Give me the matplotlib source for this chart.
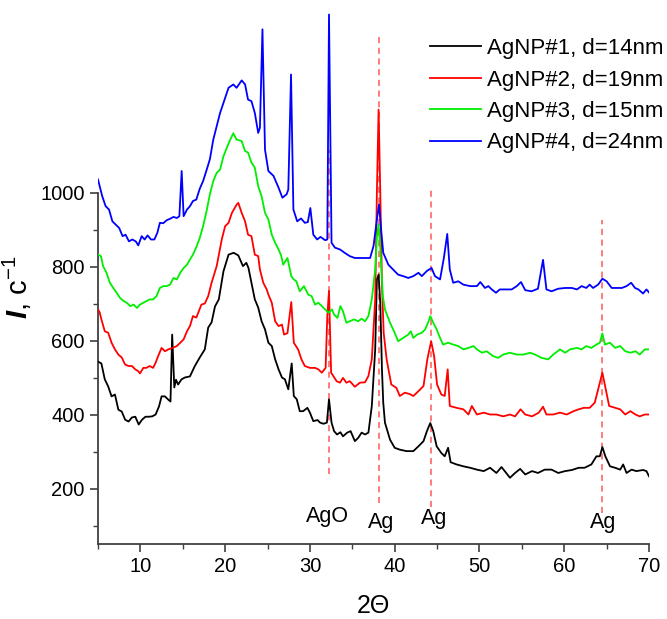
import matplotlib
matplotlib.use("Agg")
import matplotlib.pyplot as plt
from matplotlib.ticker import MultipleLocator, FixedLocator

plt.rcParams['font.family'] = ['Liberation Sans', 'DejaVu Sans']
plt.rcParams['mathtext.fontset'] = 'custom'
plt.rcParams['mathtext.rm'] = 'Liberation Sans'
plt.rcParams['mathtext.it'] = 'Liberation Sans:italic'
plt.rcParams['mathtext.bf'] = 'Liberation Sans:bold'
plt.rcParams['mathtext.bfit'] = 'Liberation Sans:italic:bold'

# ---------------- data ----------------
x1 = [5.0, 5.4, 5.8, 6.2, 6.6, 7.0, 7.4, 7.8, 8.2, 8.6, 9.0, 9.4, 9.8, 10.2, 10.6, 11.0, 11.4, 11.8, 12.2, 12.5,
      12.9, 13.3, 13.55, 13.75, 14.0, 14.2, 14.45, 14.85, 15.25, 15.85, 16.4, 17.0, 17.6, 18.0, 18.4, 18.8, 19.25,
      19.8, 20.4, 21.0, 21.55, 22.1, 22.5, 22.75, 23.1, 23.5, 23.9, 24.3, 24.7, 25.1, 25.5, 25.9, 26.3, 26.7, 27.05,
      27.45, 27.85, 28.1, 28.45, 28.8, 29.2, 29.7, 30.0, 30.4, 30.9, 31.2, 31.6, 32.0, 32.25, 32.55, 32.85, 33.2,
      33.6, 33.9, 34.4, 34.8, 35.3, 35.7, 36.1, 36.5, 36.9, 37.3, 37.7, 37.9, 38.1, 38.3, 38.5, 38.65, 38.85, 39.45,
      40.0, 40.6, 41.4, 42.2, 42.8, 43.4, 43.8, 44.2, 44.55, 44.95, 45.5, 45.9, 46.3, 46.6, 47.3, 48.1, 48.9, 49.7,
      50.5, 51.25, 52.0, 52.6, 53.6, 54.2, 54.8, 55.4, 56.2, 56.9, 57.7, 58.5, 59.3, 60.1, 60.9, 61.7, 62.4, 63.2,
      63.8, 64.2, 64.5, 64.85, 65.4, 66.0, 66.6, 66.95, 67.35, 67.95, 68.5, 69.3, 69.7, 70.0]
y1 = [543, 538, 495, 476, 449, 454, 413, 408, 386, 381, 392, 394, 373, 386, 394, 394, 395, 400, 422, 449,
      449, 440, 435, 616, 473, 494, 481, 495, 500, 503, 530, 554, 576, 635, 649, 692, 711,
      787, 832, 837, 830, 801, 810, 796, 757, 711, 689, 652, 630, 594, 585, 549, 522, 500, 495,
      468, 538, 450, 441, 409, 409, 418, 405, 382, 385, 378, 375, 378, 441, 378, 355, 346,
      352, 341, 351, 355, 328, 337, 351, 346, 351, 423, 576, 765, 778, 700, 520, 432, 378, 332,
      310, 305, 301, 301, 314, 328, 355, 377, 355, 314, 296, 287, 310, 271, 265, 260, 256, 251,
      247, 256, 242, 258, 229, 242, 253, 238, 247, 242, 251, 251, 242, 247, 250, 256, 256, 265,
      287, 287, 312, 287, 260, 256, 251, 265, 242, 251, 247, 250, 247, 233]

x2 = [5.0, 5.2, 5.4, 5.8, 6.2, 6.6, 7.0, 7.4, 7.8, 8.2, 8.6, 9.0, 9.4, 9.75, 9.95, 10.35, 10.7, 11.1, 11.5, 11.8,
      12.1, 12.5, 12.9, 13.3, 13.9, 14.3, 14.7, 15.1, 15.5, 15.85, 16.2, 16.6, 17.2, 17.6, 18.0, 18.4, 19.0, 19.6,
      20.0, 20.4, 20.8, 21.35, 21.55, 21.95, 22.35, 22.7, 23.1, 23.5, 23.9, 24.1, 24.3, 24.5, 24.9, 25.1, 25.5,
      25.9, 26.3, 26.7, 26.95, 27.35, 27.8, 28.1, 28.6, 29.0, 29.4, 30.0, 30.6, 31.0, 31.4, 31.85, 32.05, 32.25,
      32.5, 32.75, 33.15, 33.55, 33.9, 34.3, 34.7, 35.3, 35.9, 36.5, 36.9, 37.3, 37.7, 37.9, 38.1, 38.3, 38.5,
      38.7, 39.05, 39.6, 40.2, 40.6, 41.2, 41.8, 42.2, 42.8, 43.4, 43.85, 44.3, 44.65, 45.0, 45.5, 45.9, 46.25,
      46.5, 47.3, 48.1, 48.7, 49.1, 49.7, 50.5, 51.25, 52.0, 52.8, 53.6, 54.2, 54.85, 55.4, 56.2, 57.0, 57.5,
      57.9, 58.7, 59.5, 60.3, 61.1, 61.7, 62.3, 63.0, 63.6, 64.0, 64.5, 64.9, 65.3, 66.0, 66.6, 67.2, 67.8,
      68.4, 68.9, 69.5, 70.0]
y2 = [684, 676, 657, 625, 621, 594, 576, 562, 554, 535, 531, 531, 522, 517, 511, 526, 526, 531, 526, 540,
      558, 580, 571, 576, 581, 585, 594, 603, 625, 639, 666, 662, 697, 700, 720, 756, 801, 873,
      909, 918, 945, 967, 972, 945, 922, 886, 882, 832, 828, 792, 774, 756, 738, 724, 702,
      652, 639, 643, 616, 620, 704, 594, 576, 549, 531, 526, 526, 522, 513, 526, 666, 734,
      513, 504, 490, 486, 499, 486, 490, 475, 486, 487, 504, 549, 711, 1000, 1224, 1000, 750,
      621, 549, 481, 472, 450, 459, 455, 450, 463, 477, 549, 598, 558, 481, 454, 450, 522,
      423, 418, 414, 400, 423, 400, 405, 400, 400, 395, 400, 395, 414, 400, 395, 405, 421,
      400, 400, 405, 400, 409, 414, 418, 418, 432, 468, 513, 468, 423, 418, 414, 400, 409,
      400, 395, 400, 400]

x3 = [5.0, 5.35, 5.6, 6.0, 6.4, 6.8, 7.2, 7.6, 8.0, 8.4, 8.8, 9.2, 9.6, 9.95, 10.35, 10.75, 11.1, 11.5, 11.9,
      12.3, 12.7, 13.1, 13.5, 13.9, 14.3, 14.7, 15.1, 15.5, 15.85, 16.2, 16.65, 17.0, 17.4, 17.8, 18.2, 18.6,
      19.0, 19.4, 19.8, 20.2, 20.6, 20.96, 21.35, 21.95, 22.35, 22.7, 23.1, 23.5, 23.9, 24.3, 24.7, 25.1, 25.5,
      25.9, 26.3, 26.6, 26.85, 27.35, 27.8, 28.1, 28.4, 28.8, 29.3, 29.8, 30.2, 30.6, 31.0, 31.4, 31.8, 32.2,
      32.6, 32.85, 33.25, 33.6, 33.9, 34.3, 34.7, 35.2, 35.7, 36.1, 36.5, 36.9, 37.3, 37.7, 37.9, 38.1, 38.3,
      38.6, 38.85, 39.45, 40.0, 40.4, 41.0, 41.6, 41.9, 42.2, 42.65, 43.2, 43.6, 44.0, 44.2, 44.55, 44.95,
      45.35, 45.7, 46.3, 46.9, 47.5, 48.1, 48.7, 49.3, 49.7, 50.3, 50.85, 51.6, 52.2, 52.8, 53.6, 54.4, 55.2,
      56.0, 56.55, 57.35, 58.1, 58.7, 59.5, 60.1, 60.7, 61.5, 62.05, 62.6, 63.2, 63.8, 64.2, 64.5, 64.8,
      65.4, 66.0, 66.6, 67.2, 67.8, 68.4, 68.9, 69.5, 70.0]
y3 = [832, 828, 801, 783, 756, 742, 729, 715, 707, 702, 693, 697, 688, 697, 702, 707, 711, 711, 720,
      742, 747, 747, 751, 769, 765, 783, 796, 805, 819, 832, 855, 877, 909, 949, 995, 1031,
      1053, 1062, 1098, 1121, 1143, 1160, 1143, 1139, 1112, 1108, 1081, 1067, 1017, 990, 945, 927, 886,
      864, 846, 830, 805, 823, 774, 765, 760, 733, 747, 724, 720, 697, 702, 693, 684, 675,
      684, 670, 661, 693, 679, 648, 652, 657, 652, 659, 652, 666, 711, 792, 880, 914, 850,
      720, 684, 648, 621, 598, 607, 616, 625, 607, 616, 621, 630, 652, 666, 648, 630,
      607, 589, 594, 589, 585, 576, 580, 585, 576, 567, 571, 558, 553, 562, 567, 562, 562,
      567, 562, 553, 549, 562, 576, 567, 576, 580, 576, 585, 580, 589, 594, 619, 589,
      594, 580, 585, 571, 567, 571, 562, 576, 576]

x4 = [5.0, 5.5, 5.9, 6.3, 6.7, 7.1, 7.5, 7.9, 8.25, 8.65, 9.05, 9.45, 9.75, 10.15, 10.5, 10.85, 11.25, 11.65,
      12.0, 12.3, 12.7, 13.1, 13.5, 13.9, 14.3, 14.6, 14.87, 15.1, 15.5, 15.85, 16.2, 16.6, 17.0, 17.4, 17.8,
      18.2, 18.6, 19.0, 19.4, 19.8, 20.4, 20.96, 21.35, 21.95, 22.35, 22.7, 23.1, 23.5, 23.9, 24.1, 24.4, 24.7,
      25.1, 25.7, 26.3, 26.75, 27.25, 27.45, 27.77, 28.05, 28.5, 28.95, 29.4, 29.75, 30.05, 30.4, 30.85, 31.25,
      31.8, 32.05, 32.25, 32.55, 32.95, 33.55, 34.1, 34.7, 35.3, 35.9, 36.5, 37.1, 37.5, 37.9, 38.15, 38.4,
      38.65, 39.25, 39.8, 40.4, 41.0, 41.6, 42.2, 42.8, 43.2, 43.8, 44.35, 44.75, 45.35, 45.8, 46.2, 46.5,
      46.9, 47.5, 48.1, 48.9, 49.7, 50.1, 50.65, 51.05, 51.45, 51.95, 52.4, 53.2, 53.8, 54.4, 54.9, 55.4,
      56.15, 56.9, 57.5, 57.9, 58.5, 59.3, 60.1, 60.9, 61.5, 62.05, 62.6, 63.0, 63.4, 64.0, 64.5, 65.0, 65.6,
      66.2, 66.8, 67.35, 67.9, 68.35, 68.75, 69.3, 69.7, 70.0]
y4 = [1035, 990, 963, 954, 922, 913, 904, 882, 886, 868, 873, 868, 857, 882, 873, 884, 873, 873,
      891, 918, 917, 925, 929, 934, 931, 936, 1058, 936, 954, 963, 977, 981, 1010, 1031, 1060,
      1090, 1143, 1179, 1215, 1242, 1283, 1292, 1283, 1303, 1292, 1251, 1247, 1215, 1161, 1175, 1441, 1116,
      1058, 1045, 1013, 986, 995, 1008, 1319, 954, 922, 930, 918, 920, 958, 886, 873, 880,
      871, 873, 1481, 864, 851, 846, 837, 828, 823, 823, 823, 823, 855, 927, 968, 900,
      837, 805, 792, 778, 774, 769, 774, 783, 774, 788, 796, 774, 765, 823, 888, 792,
      756, 760, 751, 747, 747, 758, 742, 747, 738, 729, 738, 738, 738, 747, 758, 736,
      733, 740, 818, 738, 733, 740, 742, 742, 738, 747, 742, 751, 742, 751, 767, 760, 742,
      742, 742, 747, 756, 742, 738, 727, 738, 730]

series_labels = ['AgNP#1, d=14nm', 'AgNP#2, d=19nm', 'AgNP#3, d=15nm', 'AgNP#4, d=24nm']
series_colors = ['#000000', '#ff0000', '#00ee00', '#0000ff']

peak_pos = [32.3, 38.1, 44.3, 64.5]
peak_lo = [240, 160, 150, 135]
peak_hi = [1115, 1427, 1013, 927]
peak_names = ['AgO', 'Ag', 'Ag', 'Ag']
name_x = [32.1, 38.4, 44.6, 64.6]
name_y = [123, 109, 118, 109]

# ---------------- figure ----------------
fig = plt.figure(figsize=(6.67, 6.19), dpi=100)
ax = fig.add_axes([98 / 667, 75 / 619, 551 / 667, 536.5 / 619])

for xs, ys, lab, col in zip([x1, x2, x3, x4], [y1, y2, y3, y4], series_labels, series_colors):
    ax.plot(xs, ys, color=col, lw=1.3, label=lab, zorder=3)

for p, lo, hi in zip(peak_pos, peak_lo, peak_hi):
    ax.plot([p, p], [lo, hi], color='#ff3b3b', lw=1.1, ls=(0, (4, 3)), zorder=2, alpha=0.85)

for t, tx, ty in zip(peak_names, name_x, name_y):
    ax.text(tx, ty, t, ha='center', va='center', fontsize=15.5)

ax.set_xlim(5, 70)
ax.set_ylim(50, 1500)
ax.spines['top'].set_visible(False)
ax.spines['right'].set_visible(False)
for s in ['left', 'bottom']:
    ax.spines[s].set_color('#404040')
    ax.spines[s].set_linewidth(1.3)
ax.spines['left'].set_bounds(50, 1000)

ax.xaxis.set_major_locator(MultipleLocator(10))
ax.xaxis.set_minor_locator(MultipleLocator(5))
ax.yaxis.set_major_locator(FixedLocator([200, 400, 600, 800, 1000]))
ax.yaxis.set_minor_locator(FixedLocator([100, 300, 500, 700, 900]))
ax.tick_params(which='major', direction='out', length=6, width=1.2, color='#404040', labelsize=14.5)
ax.tick_params(which='minor', direction='out', length=3.5, width=1.0, color='#404040')

fig.text(373 / 667, 1 - 606 / 619, '2Θ', ha='center', va='center', fontsize=18)
fig.text(17 / 667, 1 - 287 / 619, r'$\mathbfit{I}$, c$^{-1}$', ha='center', va='center',
         rotation=90, fontsize=21)

leg = ax.legend(loc='upper right', bbox_to_anchor=(675 / 667, 592 / 619), bbox_transform=fig.transFigure,
                frameon=False, fontsize=16, handlelength=2.3, handletextpad=0.3, labelspacing=0.47,
                borderaxespad=0.1)

fig.savefig('out.png', dpi=100)
